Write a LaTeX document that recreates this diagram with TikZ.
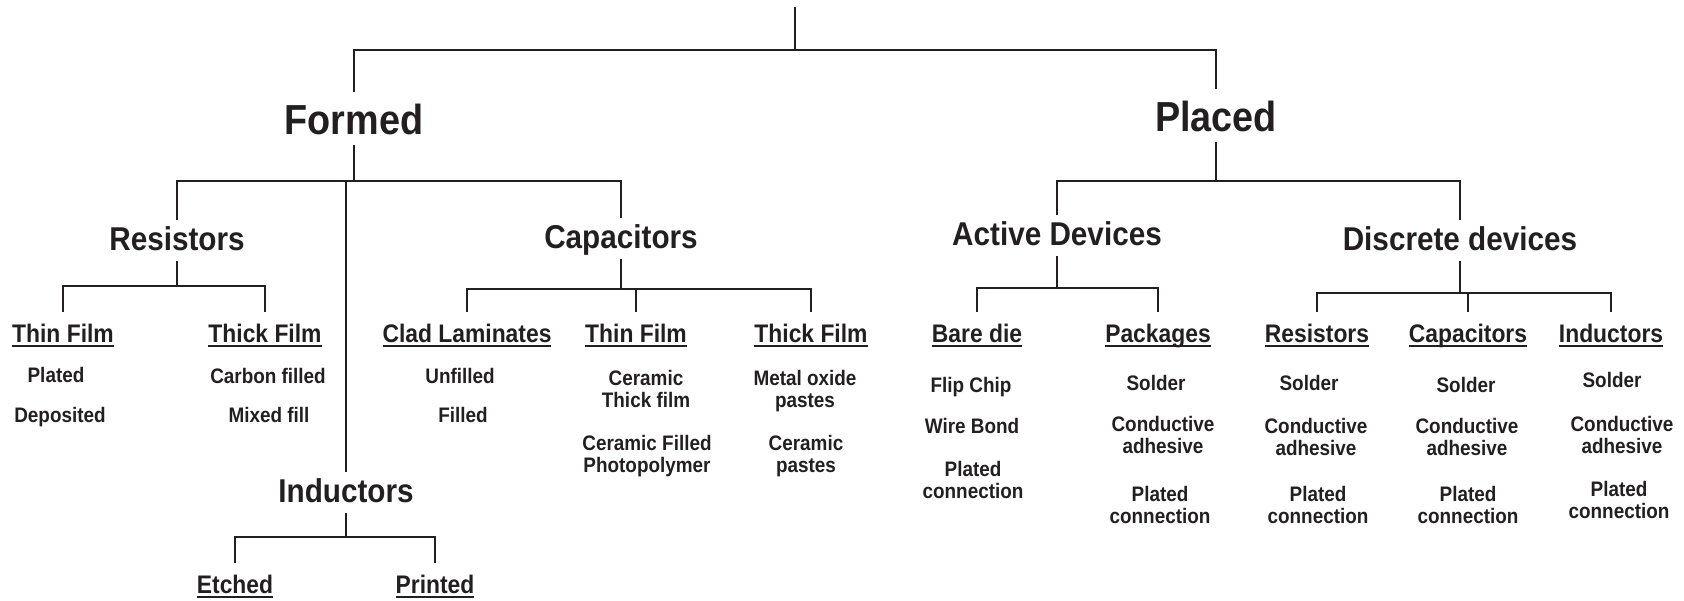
\documentclass[tikz,border=0pt]{standalone}
\usepackage{fontspec}
\setmainfont{Liberation Sans}[FakeStretch=0.9]
\usepackage{tikz}
\definecolor{ink}{HTML}{231F20}
\newcommand{\undl}[1]{\setbox0\hbox{#1}\rlap{\rule[-2.5pt]{\wd0}{1.2pt}}\box0}

\begin{document}
\begin{tikzpicture}
  [x=0.5pt,y=-0.5pt,
   every node/.style={text=ink, anchor=base},
   link/.style={draw=ink, line width=1.1pt},
   group/.style={font=\fontsize{21}{25}\selectfont\bfseries, text height=15.3pt, text depth=0pt, inner ysep=5.5pt},
   family/.style={font=\fontsize{16.5}{20}\selectfont\bfseries, text height=12pt, text depth=2.5pt, inner ysep=3pt},
   kind/.style={font=\fontsize{12.7}{15}\selectfont\bfseries, text height=9.5pt, inner ysep=5.5pt, inner xsep=0pt},
   item/.style={font=\fontsize{10.5}{11}\selectfont\bfseries, align=center, inner sep=0pt},
  ]
  \useasboundingbox (0,0) rectangle (1684,600);

  \node[group] (formed) at (354,134) {Formed};
  \node[group] (placed) at (1216,131) {Placed};

  \node[family] (res) at (177,250) {Resistors};
  \node[family] (ind) at (346,502) {Inductors};
  \node[family] (cap) at (621,248) {Capacitors};
  \node[family] (act) at (1057,245) {Active Devices};
  \node[family] (dis) at (1460,250) {Discrete devices};

  \node[kind] (resthin) at (63,342) {\undl{Thin Film}};
  \node[kind] (resthick) at (265,342) {\undl{Thick Film}};
  \node[kind] (clad) at (467,342) {\undl{Clad Laminates}};
  \node[kind] (capthin) at (636,342) {\undl{Thin Film}};
  \node[kind] (capthick) at (811,342) {\undl{Thick Film}};
  \node[kind] (etched) at (235,593) {\undl{Etched}};
  \node[kind] (printed) at (435,593) {\undl{Printed}};
  \node[kind] (bare) at (977,342) {\undl{Bare die}};
  \node[kind] (pack) at (1158,342) {\undl{Packages}};
  \node[kind] (disres) at (1317,342) {\undl{Resistors}};
  \node[kind] (discap) at (1468,342) {\undl{Capacitors}};
  \node[kind] (disind) at (1611,342) {\undl{Inductors}};

  \node[item] (plated) at (56,382) {Plated};
  \node[item] (deposited) at (60,422) {Deposited};
  \node[item] (carbon) at (268,383) {Carbon filled};
  \node[item] (mixed) at (269,422) {Mixed fill};
  \node[item] (unfilled) at (460,383) {Unfilled};
  \node[item] (filled) at (463,422) {Filled};
  \node[item] (certhick) at (646,407) {Ceramic\\Thick film};
  \node[item] (cerphoto) at (647,472) {Ceramic Filled\\Photopolymer};
  \node[item] (metal) at (805,407) {Metal oxide\\pastes};
  \node[item] (cerpaste) at (806,472) {Ceramic\\pastes};

  \node[item] (flip) at (971,392) {Flip Chip};
  \node[item] (wire) at (972,433) {Wire Bond};
  \node[item] (bareplated) at (973,498) {Plated\\connection};
  \node[item] (packsolder) at (1156,390) {Solder};
  \node[item] (packcond) at (1163,453) {Conductive\\adhesive};
  \node[item] (packplated) at (1160,523) {Plated\\connection};
  \node[item] (ressolder) at (1309,390) {Solder};
  \node[item] (rescond) at (1316,455) {Conductive\\adhesive};
  \node[item] (resplated) at (1318,523) {Plated\\connection};
  \node[item] (capsolder) at (1466,392) {Solder};
  \node[item] (capcond) at (1467,455) {Conductive\\adhesive};
  \node[item] (capplated) at (1468,523) {Plated\\connection};
  \node[item] (indsolder) at (1612,387) {Solder};
  \node[item] (indcond) at (1622,453) {Conductive\\adhesive};
  \node[item] (indplated) at (1619,518) {Plated\\connection};

  \coordinate (root) at (795,7);
  \coordinate (rootbar) at (795,50);
  \coordinate (formedbar) at (354,181);
  \coordinate (placedbar) at (1216,181);
  \coordinate (resbar) at (177,286);
  \coordinate (capbar) at (621,289);
  \coordinate (indbar) at (346,537);
  \coordinate (actbar) at (1057,288);
  \coordinate (disbar) at (1460,293);

  \draw[link] (root) -- (rootbar);
  \draw[link] (formed.north) |- (rootbar) -| (placed.north);

  \draw[link] (formed.south) -- (formedbar);
  \draw[link] (res.north) |- (formedbar) -| (cap.north);
  \draw[link] (ind.north) -- (ind.north |- formedbar);

  \draw[link] (placed.south) -- (placedbar);
  \draw[link] (act.north) |- (placedbar) -| (dis.north);

  \draw[link] (res.south) -- (resbar);
  \draw[link] (resthin.north) |- (resbar) -| (resthick.north);

  \draw[link] (cap.south) -- (capbar);
  \draw[link] (clad.north) |- (capbar) -| (capthick.north);
  \draw[link] (capthin.north) -- (capthin.north |- capbar);

  \draw[link] (ind.south) -- (indbar);
  \draw[link] (etched.north) |- (indbar) -| (printed.north);

  \draw[link] (act.south) -- (actbar);
  \draw[link] (bare.north) |- (actbar) -| (pack.north);

  \draw[link] (dis.south) -- (disbar);
  \draw[link] (disres.north) |- (disbar) -| (disind.north);
  \draw[link] (discap.north) -- (discap.north |- disbar);
\end{tikzpicture}
\end{document}
